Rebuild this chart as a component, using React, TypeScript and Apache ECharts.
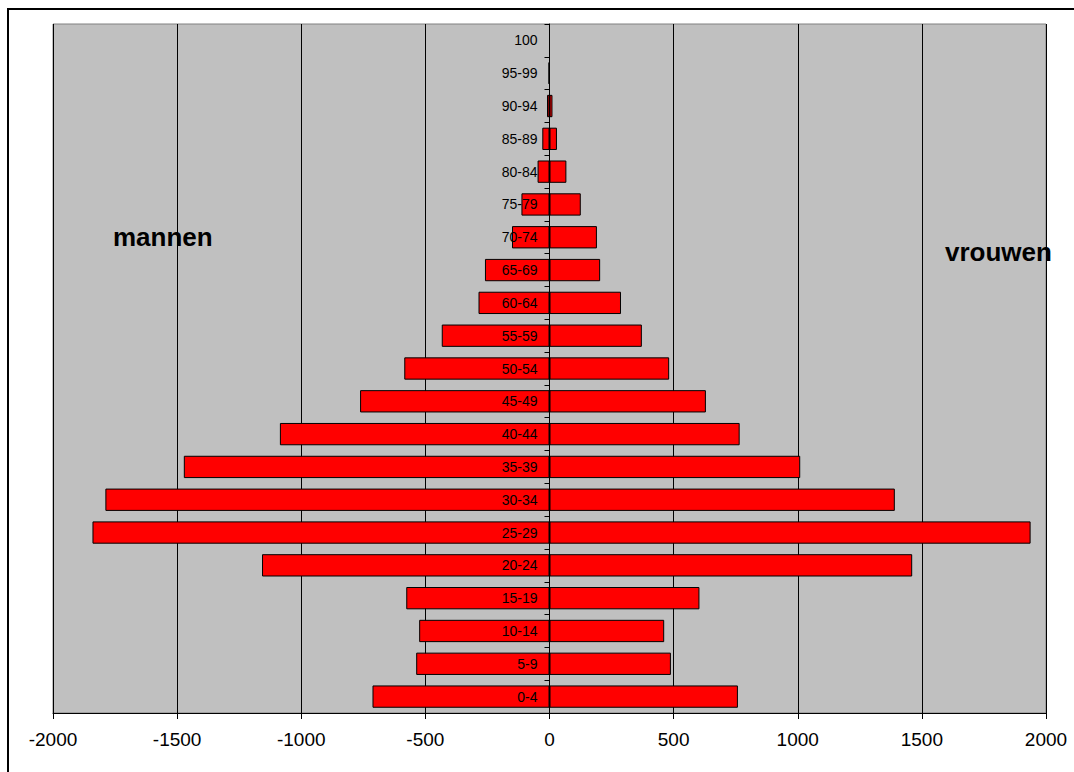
import React, { useEffect, useRef } from "react";
import * as echarts from "echarts";

const ageGroups = [
  "0-4", "5-9", "10-14", "15-19", "20-24", "25-29", "30-34", "35-39", "40-44",
  "45-49", "50-54", "55-59", "60-64", "65-69", "70-74", "75-79", "80-84",
  "85-89", "90-94", "95-99", "100",
];
const mannen = [713, 537, 525, 577, 1158, 1841, 1789, 1473, 1086, 763, 585, 434, 286, 260, 151, 113, 48, 29, 10, 4, 0];
const vrouwen = [759, 489, 462, 604, 1461, 1938, 1391, 1010, 766, 630, 482, 372, 288, 204, 191, 126, 68, 30, 12, 0, 0];
const xTicks = { min: -2000, max: 2000, step: 500 };
const labelMannen = "mannen";
const labelVrouwen = "vrouwen";

const FONT = "Arial, 'Liberation Sans', sans-serif";
const GRID_LEFT = 53;
const GRID_WIDTH = 993;

export default function App() {
  const ref = useRef<HTMLDivElement>(null);
  useEffect(() => {
    if (!ref.current) return;
    const chart = echarts.init(ref.current, null, { renderer: "svg" });
    const barStyle = { color: "#ff0000", borderColor: "#000000", borderWidth: 1 };
    // shift the category axis onto x = 0 of the value axis
    const zeroOffset = -(GRID_WIDTH * (0 - xTicks.min)) / (xTicks.max - xTicks.min);
    chart.setOption({
      animation: false,
      grid: {
        left: GRID_LEFT,
        top: 24,
        width: GRID_WIDTH,
        height: 689,
        show: true,
        backgroundColor: "#c0c0c0",
        borderColor: "#808080",
        borderWidth: 1,
      },
      xAxis: {
        type: "value",
        min: xTicks.min,
        max: xTicks.max,
        interval: xTicks.step,
        axisLine: { show: true, onZero: false, lineStyle: { color: "#000", width: 1 } },
        axisTick: { show: true, length: 6, lineStyle: { color: "#000" } },
        axisLabel: {
          color: "#000",
          fontSize: 19,
          fontFamily: FONT,
          margin: 17,
          formatter: (v: number) => String(v),
        },
        splitLine: { show: true, lineStyle: { color: "#000", width: 1 } },
      },
      yAxis: {
        type: "category",
        data: ageGroups,
        z: 10,
        position: "left",
        offset: zeroOffset,
        axisLine: { show: true, onZero: false, lineStyle: { color: "#000", width: 1 } },
        axisTick: { show: true, length: 5, lineStyle: { color: "#000" } },
        axisLabel: { color: "#000", fontSize: 14, fontFamily: FONT, margin: 12, interval: 0 },
        splitLine: { show: false },
      },
      series: [
        {
          name: labelMannen,
          type: "bar",
          data: mannen.map((v) => -v),
          barGap: "-100%",
          barCategoryGap: "32%",
          itemStyle: barStyle,
        },
        {
          name: labelVrouwen,
          type: "bar",
          data: vrouwen,
          barGap: "-100%",
          barCategoryGap: "32%",
          itemStyle: barStyle,
        },
      ],
      graphic: [
        {
          type: "rect",
          z: 100,
          shape: { x: 8, y: 9, width: 1100, height: 800 },
          style: { fill: "none", stroke: "#000", lineWidth: 2 },
        },
        {
          type: "text",
          z: 100,
          x: 113,
          y: 237,
          style: {
            text: labelMannen,
            font: `bold 26px ${FONT}`,
            fill: "#000",
            verticalAlign: "middle",
          },
        },
        {
          type: "text",
          z: 100,
          x: 945,
          y: 252,
          style: {
            text: labelVrouwen,
            font: `bold 26px ${FONT}`,
            fill: "#000",
            verticalAlign: "middle",
          },
        },
      ],
    });
    return () => chart.dispose();
  }, []);
  return (
    <div
      ref={ref}
      style={{ position: "fixed", left: 0, top: 0, width: 1074, height: 772, background: "#fff" }}
    />
  );
}
